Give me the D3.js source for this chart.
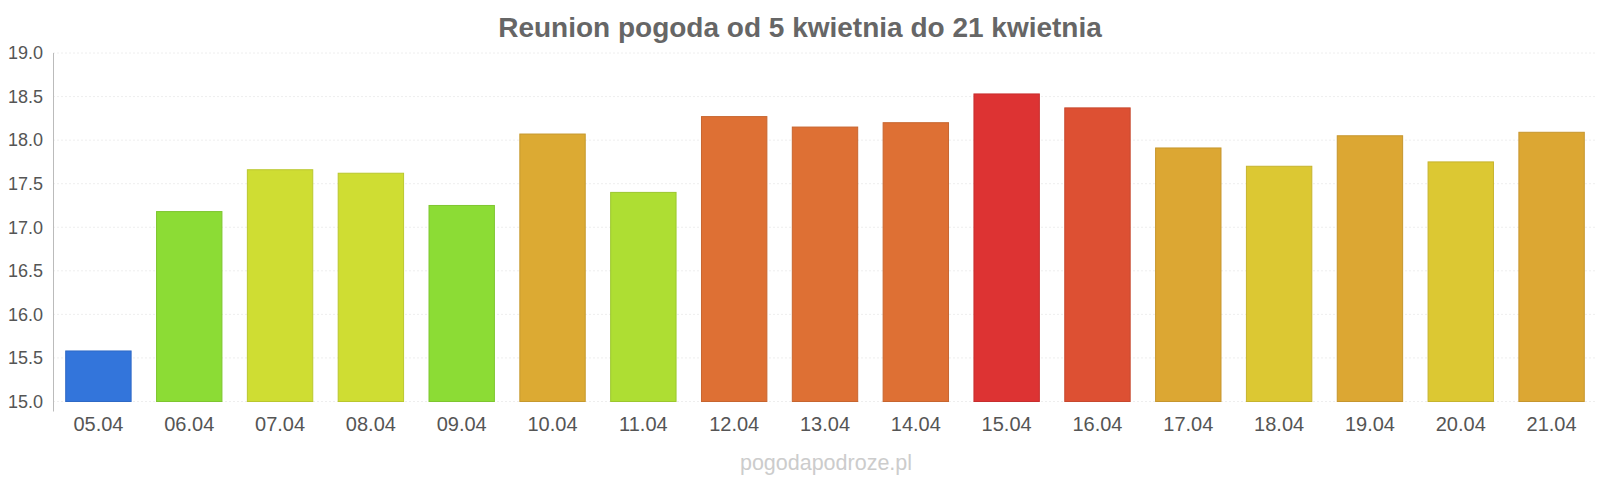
<!DOCTYPE html>
<html>
<head>
<meta charset="utf-8">
<script src="https://cdn.jsdelivr.net/npm/d3@7"></script>
<style>
  html, body { margin: 0; padding: 0; background: #fff; overflow: hidden; }
  svg { display: block; }
  text { font-family: "Liberation Sans", Arial, sans-serif; }
</style>
</head>
<body>
<div id="chart"></div>
<script>
const days = ['05.04', '06.04', '07.04', '08.04', '09.04', '10.04', '11.04', '12.04', '13.04',
    '14.04', '15.04', '16.04', '17.04', '18.04', '19.04', '20.04', '21.04'];
const temps = [15.58, 17.18, 17.66, 17.62, 17.25, 18.07, 17.40, 18.27, 18.15,
    18.2, 18.53, 18.37, 17.91, 17.7, 18.05, 17.75, 18.09];
const colors = ['#3375db', '#8cdc35', '#cfdd33', '#cfdd33', '#8cdc35', '#dcaa33', '#aede33', '#de7034', '#de7034',
    '#de7034', '#dd3333', '#dd5033', '#dca733', '#dcc833', '#dca733', '#dcc833', '#dca733'];
const yTicks = [15.0, 15.5, 16.0, 16.5, 17.0, 17.5, 18.0, 18.5, 19.0];

const width = 1600;
const height = 480;
const margin = { top: 53, right: 3, bottom: 78.5, left: 53 };

const svg = d3.select("#chart")
    .append("svg")
    .attr("width", width)
    .attr("height", height);

const x = d3.scaleBand()
    .domain(days)
    .range([margin.left, width - margin.right])
    .paddingInner(0.28)
    .paddingOuter(0.14);

const y = d3.scaleLinear()
    .domain([15, 19])
    .range([height - margin.bottom, margin.top]);

// grid lines
svg.append("g")
    .selectAll("line")
    .data(yTicks)
    .enter().append("line")
    .attr("x1", margin.left)
    .attr("x2", width - margin.right)
    .attr("y1", d => y(d))
    .attr("y2", d => y(d))
    .attr("stroke", "#eeeeee")
    .attr("stroke-dasharray", "2,2");

// bars
svg.selectAll("rect.bar")
    .data(temps)
    .enter().append("rect")
    .attr("class", "bar")
    .attr("x", (d, i) => x(days[i]))
    .attr("y", d => y(d))
    .attr("width", x.bandwidth())
    .attr("height", d => y(15) - y(d))
    .attr("fill", (d, i) => colors[i])
    .attr("stroke", (d, i) => d3.color(colors[i]).darker(0.3))
    .attr("stroke-width", 1);

// y axis
const yAxis = svg.append("g")
    .attr("transform", `translate(${margin.left},0)`)
    .call(d3.axisLeft(y).tickValues(yTicks).tickFormat(d3.format(".1f")).tickSize(0).tickPadding(10));
yAxis.select(".domain").remove();
yAxis.selectAll("text")
    .attr("fill", "#555")
    .style("font-size", "18px");

svg.append("line")
    .attr("x1", margin.left + 0.5)
    .attr("x2", margin.left + 0.5)
    .attr("y1", margin.top)
    .attr("y2", height - margin.bottom + 10)
    .attr("stroke", "#bbbbbb");

// x axis
const xAxis = svg.append("g")
    .attr("transform", `translate(0,${height - margin.bottom})`)
    .call(d3.axisBottom(x).tickSize(0).tickPadding(15));
xAxis.select(".domain").remove();
xAxis.selectAll("text")
    .attr("fill", "#555")
    .style("font-size", "20px");

// title
svg.append("text")
    .attr("x", 800)
    .attr("y", 37)
    .attr("text-anchor", "middle")
    .attr("fill", "#666")
    .style("font-size", "28px")
    .style("font-weight", "bold")
    .text("Reunion pogoda od 5 kwietnia do 21 kwietnia");

// watermark
svg.append("text")
    .attr("x", 826)
    .attr("y", 470)
    .attr("text-anchor", "middle")
    .attr("fill", "#cccccc")
    .style("font-size", "21.5px")
    .text("pogodapodroze.pl");
</script>
</body>
</html>
